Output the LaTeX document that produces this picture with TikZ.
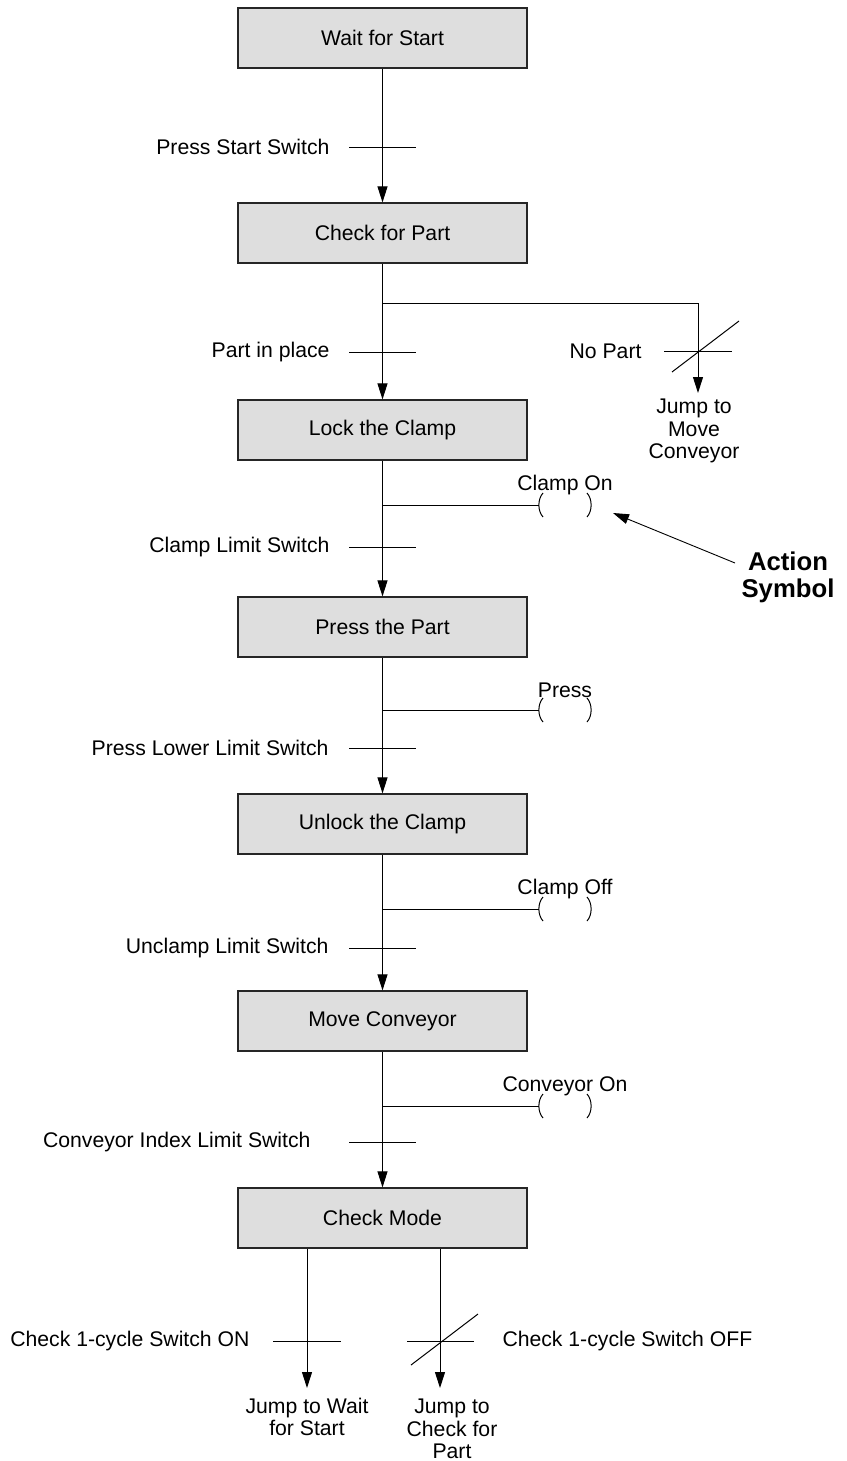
\documentclass[tikz,border=0pt]{standalone}
\usepackage{fontspec}
\setmainfont{Liberation Sans}
\usetikzlibrary{arrows.meta}
\begin{document}
\begin{tikzpicture}[x=1pt,y=-1pt,line width=1pt,
  every node/.style={font=\fontsize{21.2}{22.7}\selectfont,inner sep=0pt},
  stepbox/.style={draw=black!85,line width=1.2pt,fill=black!13,minimum width=289pt,minimum height=60pt},
  arr/.style={-{Triangle[length=16pt,width=10pt]}},
  lbl/.style={anchor=east},
  act/.style={align=center},
  coil/.pic={\draw (-22,-12) .. controls (-27.5,-6) and (-27.5,6) .. (-22,12);
             \draw (22,-12) .. controls (27.5,-6) and (27.5,6) .. (22,12);}]
\useasboundingbox (0,0) rectangle (846,1461);

% steps
\node[stepbox] (b1) at (382.5,38)  {Wait for Start};
\node[stepbox] (b2) at (382.5,233) {Check for Part};
\node[stepbox] (b3) at (382.5,430) {Lock the Clamp};
\node[stepbox] (b4) at (382.5,627) {Press the Part};
\node[stepbox] (b5) at (382.5,824) {Unlock the Clamp};
\node[stepbox] (b6) at (382.5,1021) {Move Conveyor};
\node[stepbox] (b7) at (382.5,1218) {Check Mode};

% main flow
\draw[arr] (b1.south) -- (b2.north);
\draw[arr] (b2.south) -- (b3.north);
\draw[arr] (b3.south) -- (b4.north);
\draw[arr] (b4.south) -- (b5.north);
\draw[arr] (b5.south) -- (b6.north);
\draw[arr] (b6.south) -- (b7.north);

% transitions
\foreach \y in {147,352,547,748,948,1142}{\draw (349,\y) -- (416,\y);}
\node[lbl] (l1) at (330,147) {Press Start Switch};
\node[lbl] (l2) at (330,352) {Part in place};
\node[lbl] (l3) at (330,547) {Clamp Limit Switch};
\node[lbl] (l4) at (329,748) {Press Lower Limit Switch};
\node[lbl] (l5) at (329,948) {Unclamp Limit Switch};
\node[lbl] (l6) at (311,1142) {Conveyor Index Limit Switch};

% No Part branch
\coordinate (nb) at (382.5,303);
\coordinate (ne) at (698,393);
\draw[arr] (nb) -| (ne);
\draw (664,351) -- (732,351);
\draw (672,372) -- (739,321);
\node[lbl] (np) at (642,351) {No Part};
\node[act] (j1) at (694,431) {Jump to\\Move\\Conveyor};

% actions
\foreach \y/\t/\n in {505/Clamp On/a1,710/Press/a2,909/Clamp Off/a3,1106/Conveyor On/a4}{
  \coordinate (\n s) at (382.5,\y);
  \coordinate (\n e) at (539,\y);
  \draw (\n s) -- (\n e);
  \pic at (565,\y) {coil};
  \node (\n) at (565,\y-20) {\t};
}

% Action symbol callout
\node[act,font=\fontsize{25.7}{27}\selectfont\bfseries] (as) at (788,577) {Action\\Symbol};
\coordinate (ast) at (735,563);
\coordinate (asp) at (613,513);
\draw[arr,line width=0.9pt] (ast) -- (asp);

% Check Mode outputs
\coordinate (m1) at (307,1249);
\coordinate (m1e) at (307,1388);
\coordinate (m2) at (440,1249);
\coordinate (m2e) at (440,1388);
\draw[arr] (m1) -- (m1e);
\draw[arr] (m2) -- (m2e);
\draw (273,1341) -- (341,1341);
\draw (407,1341) -- (474,1341);
\draw (411,1365) -- (478,1314);
\node[lbl] (c1) at (250,1341) {Check 1-cycle Switch ON};
\node[anchor=west] (c2) at (502,1341) {Check 1-cycle Switch OFF};
\node[act] (j2) at (307,1417) {Jump to Wait\\for Start};
\node[act] (j3) at (452,1429) {Jump to\\Check for\\Part};
\end{tikzpicture}
\end{document}
